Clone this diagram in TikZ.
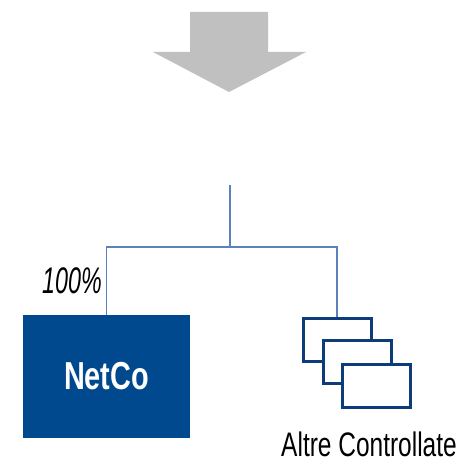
\documentclass[tikz,border=0pt]{standalone}
\usepackage{fontspec}
\usepackage{graphicx}
\setmainfont{Liberation Sans}
\definecolor{netblue}{RGB}{0,73,143}
\definecolor{frameblue}{RGB}{12,60,122}
\definecolor{linkblue}{RGB}{92,130,190}
\definecolor{arrowgray}{RGB}{192,192,192}
\tikzset{
  link/.style={draw=linkblue, line width=1.3pt},
  mainbox/.style={fill=netblue, draw=none, minimum width=167pt, minimum height=123pt, inner sep=0pt},
  subbox/.style={fill=white, draw=frameblue, line width=3pt, minimum width=68pt, minimum height=43pt, inner sep=0pt},
  lbl/.style={inner sep=0pt}
}
\begin{document}
\begin{tikzpicture}[x=1pt,y=-1pt]
  \useasboundingbox (0,0) rectangle (462,462);
  % big grey arrow pointing down
  \fill[arrowgray] (190,12) -- (268,12) -- (268,52) -- (306,52) -- (229,92) -- (153,52) -- (190,52) -- cycle;
  % holding structure
  \coordinate (top) at (230,185);
  \coordinate (junction) at (230,247);
  \node[mainbox] (netco) at (106.5,376.5) {};
  \node[lbl, text=white] at (netco.center) {\scalebox{0.74}[1]{\fontsize{39pt}{39pt}\selectfont\bfseries NetCo}};
  \node[subbox] (box1) at (337,339.5) {};
  \node[subbox] (box2) at (357,362) {};
  \node[subbox] (box3) at (376,385.5) {};
  \node[lbl, anchor=east] (pct) at (102,281) {\scalebox{0.63}[1]{\fontsize{37pt}{37pt}\selectfont\itshape 100\%}};
  \node[lbl, anchor=base] (altre) at (369,456) {\scalebox{0.72}[1]{\fontsize{34pt}{34pt}\selectfont Altre Controllate}};
  \draw[link] (top) -- (junction);
  \draw[link] (netco.north) -- (netco.north |- junction) -- (box1.north |- junction) -- (box1.north);
\end{tikzpicture}
\end{document}
